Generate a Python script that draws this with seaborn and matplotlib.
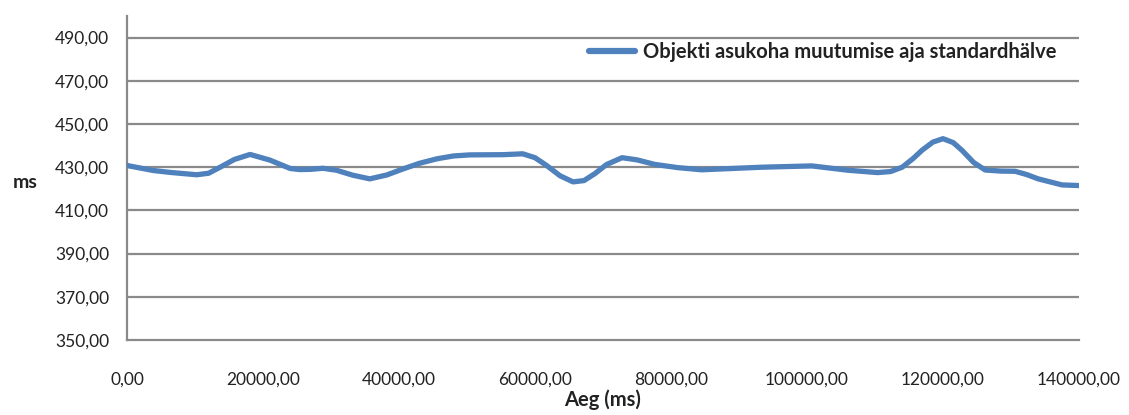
import matplotlib
matplotlib.use("Agg")
import matplotlib.pyplot as plt
import seaborn as sns
import pandas as pd

# Data
time_ms = [0, 1800, 3800, 6300, 8800, 10250, 12000, 13700, 15800, 18100,
           21000, 24000, 25400, 27000, 28800, 30800, 33200, 35700, 38200, 40600,
           43000, 45600, 48000, 50400, 55300, 58200, 60000, 61700, 63700, 65600,
           67200, 68800, 70500, 72800, 75000, 77600, 81000, 84500, 93400, 100700,
           106000, 110400, 112300, 114000, 115600, 116900, 118500, 120000, 121500,
           122800, 124500, 126200, 128500, 130600, 132300, 134000, 137500, 140000]
std_ms = [430.8, 429.7, 428.5, 427.6, 426.9, 426.5, 427.2, 430.0, 433.6, 435.9,
          433.3, 429.4, 428.9, 429.0, 429.5, 428.6, 426.3, 424.6, 426.4, 429.2,
          431.8, 433.9, 435.2, 435.7, 435.8, 436.2, 434.4, 430.8, 426.0, 423.2,
          423.8, 427.0, 431.2, 434.4, 433.4, 431.3, 429.8, 428.8, 430.0, 430.6,
          428.6, 427.5, 428.0, 430.0, 434.0, 437.8, 441.6, 443.2, 441.4,
          437.8, 432.2, 428.7, 428.2, 428.1, 426.6, 424.6, 421.8, 421.5]
series_name = "Objekti asukoha muutumise aja standardhälve"
x_ticks = [0, 20000, 40000, 60000, 80000, 100000, 120000, 140000]
y_ticks = [350, 370, 390, 410, 430, 450, 470, 490]
x_label = "Aeg (ms)"
y_label = "ms"

sns.set_theme(style="white")
plt.rcParams["font.family"] = ["Lato", "DejaVu Sans"]

df = pd.DataFrame({"t": time_ms, "v": std_ms, "s": series_name})

fig = plt.figure(figsize=(11.29, 4.15), dpi=100)
ax = fig.add_axes([127 / 1129, 1 - 340 / 415, (1079 - 127) / 1129, (340 - 16) / 415])

grid_c = "#8a8a8a"
sns.lineplot(data=df, x="t", y="v", hue="s", palette=["#4F81BD"], ax=ax,
             linewidth=3.8, solid_joinstyle="round", solid_capstyle="round",
             zorder=3)

ax.set_xlim(0, 140000)
ax.set_ylim(350, 500)
ax.set_xticks(x_ticks)
ax.set_yticks(y_ticks)
ax.set_xticklabels([f"{v:.2f}".replace(".", ",") for v in x_ticks])
ax.set_yticklabels([f"{v:.2f}".replace(".", ",") for v in y_ticks])

for yv in y_ticks[1:]:
    ax.axhline(yv, color=grid_c, linewidth=1.6, zorder=1)

for side in ["top", "right"]:
    ax.spines[side].set_visible(False)
for side in ["left", "bottom"]:
    ax.spines[side].set_color(grid_c)
    ax.spines[side].set_linewidth(1.6)

ax.tick_params(axis="both", which="major", direction="out", length=5,
               width=1.6, color=grid_c, labelcolor="#222222", labelsize=12.5)
ax.tick_params(axis="y", pad=8)
ax.tick_params(axis="x", pad=18)

ax.set_xlabel(x_label, fontsize=14.5, fontweight="bold", color="#222222", labelpad=1)
ax.set_ylabel("")
fig.text(25 / 1129, 1 - 182 / 415, y_label, fontsize=14, fontweight="bold",
         color="#222222", ha="center", va="center")

leg = ax.legend(loc="center right", bbox_to_anchor=(0.985, 0.889), frameon=False,
                prop={"weight": "bold", "size": 14.5}, handlelength=2.3,
                handletextpad=0.4, borderaxespad=0)
for h in leg.get_lines():
    h.set_linewidth(4.5)
for t in leg.get_texts():
    t.set_color("#222222")

fig.savefig("out.png", dpi=100)
